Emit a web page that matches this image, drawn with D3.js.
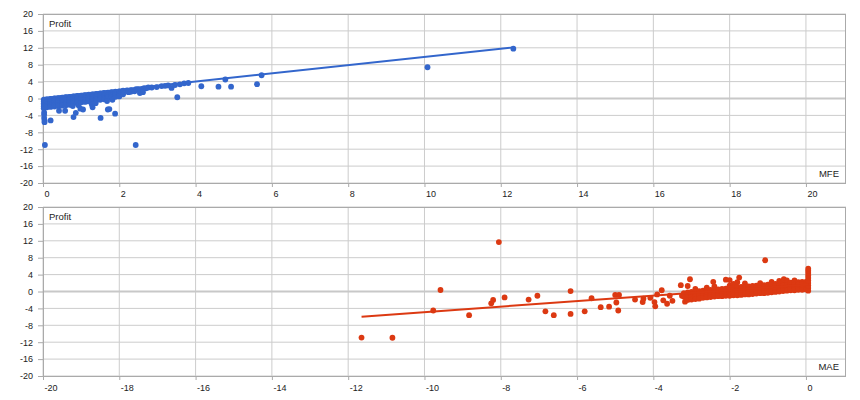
<!DOCTYPE html>
<html><head><meta charset="utf-8">
<script src="https://cdn.jsdelivr.net/npm/d3@7/dist/d3.min.js"></script>
<style>
body{margin:0;background:#fff;}
svg text{font-family:Arial,"Liberation Sans",sans-serif;fill:#222;}
</style></head><body>
<svg id="c" width="860" height="400"></svg>
<script>
// ---------- data ----------
const yTicks = [-20,-16,-12,-8,-4,0,4,8,12,16,20];
const mfeTicks = [0,2,4,6,8,10,12,14,16,18,20];
const maeTicks = [-20,-18,-16,-14,-12,-10,-8,-6,-4,-2,0];
const yLabel = "Profit";
const mfeLabel = "MFE";
const maeLabel = "MAE";

// [MFE, Profit]
const mfeData = [
[0.02,-0.3],[0.02,-0.7],[0.02,-1.1],[0.02,-1.5],[0.02,-1.9],[0.02,-2.3],[0.03,-3.3],[0.03,-3.8],[0.03,-4.6],[0.04,-5.2],[0.04,-5.6],[0.05,-11.0],
[0.1,-0.2],[0.1,-0.6],[0.1,-1.0],[0.1,-1.4],[0.1,-1.8],[0.1,-2.1],
[0.2,-0.1],[0.2,-0.5],[0.2,-0.9],[0.2,-1.3],[0.2,-1.7],[0.2,-2.0],[0.2,-5.2],
[0.3,0.0],[0.3,-0.4],[0.3,-0.8],[0.3,-1.2],[0.3,-1.6],[0.3,-1.9],
[0.4,0.1],[0.4,-0.3],[0.4,-0.7],[0.4,-1.1],[0.4,-1.5],[0.4,-1.8],[0.42,-2.9],
[0.5,0.2],[0.5,-0.2],[0.5,-0.6],[0.5,-1.0],[0.5,-1.4],[0.5,-1.7],
[0.6,0.3],[0.6,-0.1],[0.6,-0.5],[0.6,-0.9],[0.6,-1.3],[0.6,-1.6],[0.58,-2.9],
[0.7,0.4],[0.7,0.0],[0.7,-0.4],[0.7,-0.8],[0.7,-1.2],[0.7,-1.5],
[0.8,0.5],[0.8,0.1],[0.8,-0.3],[0.8,-0.7],[0.8,-1.1],[0.78,-1.8],[0.8,-4.4],
[0.9,0.6],[0.9,0.2],[0.9,-0.2],[0.9,-0.6],[0.9,-1.0],[0.93,-1.6],[0.86,-3.4],
[1.0,0.7],[1.0,0.3],[1.0,-0.1],[1.0,-0.5],[1.0,-0.9],[0.98,-2.4],[1.05,-2.6],
[1.1,0.8],[1.1,0.4],[1.1,0.0],[1.1,-0.4],[1.1,-0.8],
[1.2,0.9],[1.2,0.5],[1.2,0.1],[1.2,-0.3],[1.2,-0.7],
[1.3,1.0],[1.3,0.6],[1.3,0.2],[1.3,-0.2],[1.3,-0.6],[1.28,-1.4],[1.3,-2.1],
[1.4,1.1],[1.4,0.7],[1.4,0.3],[1.4,-0.1],[1.4,-0.4],[1.38,-1.1],
[1.5,1.2],[1.5,0.8],[1.5,0.4],[1.5,0.0],[1.5,-0.3],[1.51,-4.6],
[1.6,1.3],[1.6,0.9],[1.6,0.5],[1.6,0.1],[1.6,-0.2],
[1.7,1.4],[1.7,1.0],[1.7,0.6],[1.7,0.2],[1.68,-0.6],[1.7,-2.6],[1.74,-2.5],
[1.8,1.5],[1.8,1.1],[1.8,0.7],[1.8,0.3],[1.82,-0.3],
[1.9,1.6],[1.9,1.2],[1.9,0.8],[1.9,0.4],[1.89,-3.6],
[2.0,1.7],[2.0,1.3],[2.0,0.9],[2.0,0.5],
[2.1,1.85],[2.1,1.4],[2.1,1.0],
[2.2,1.9],[2.24,1.5],
[2.31,2.0],[2.3,1.6],
[2.44,2.2],[2.4,1.7],[2.43,-11.0],
[2.54,1.3],[2.5,2.2],[2.55,1.8],
[2.6,2.3],[2.65,2.45],[2.62,1.5],
[2.7,2.4],[2.76,2.6],[2.85,2.6],
[2.98,2.7],[3.11,2.95],[3.2,3.0],[3.28,3.1],[3.37,2.5],[3.46,3.2],[3.52,0.3],
[3.59,3.35],[3.7,3.6],[3.81,3.67],[4.15,2.9],[4.6,2.8],[4.78,4.5],[4.93,2.8],
[5.61,3.4],[5.73,5.5],[10.08,7.4],[12.33,11.8]
];

// [MAE, Profit]
const maeData = [
[-11.65,-10.9],[-10.84,-10.95],[-9.77,-4.5],[-9.58,0.35],[-8.83,-5.6],[-8.25,-2.8],[-8.2,-2.0],
[-8.05,11.7],[-7.9,-1.4],[-7.27,-1.9],[-7.04,-1.0],[-6.83,-4.7],[-6.61,-5.6],[-6.17,0.1],[-6.17,-5.3],
[-5.8,-4.7],[-5.62,-1.6],[-5.38,-3.7],[-5.16,-3.6],[-5.0,-0.8],[-4.9,-0.8],[-4.97,-2.6],[-4.92,-4.5],
[-4.48,-1.9],[-4.28,-2.5],[-4.26,-1.7],[-4.08,-1.5],[-3.97,-2.5],[-3.95,-3.5],[-3.9,-0.7],[-3.78,0.3],
[-3.74,-2.1],[-3.64,-2.9],[-3.57,-1.0],[-3.5,-2.2],
[-3.28,1.5],[-3.25,-1.0],
[-3.2,-0.4],[-3.2,-1.2],[-3.17,-2.4],
[-3.1,1.3],[-3.1,-0.2],[-3.1,-0.8],[-3.1,-1.4],[-3.1,-2.0],[-3.04,2.9],
[-3.0,-0.1],[-3.0,-0.7],[-3.0,-1.3],[-3.0,-1.9],
[-2.9,0.6],[-2.9,0.0],[-2.9,-0.6],[-2.9,-1.2],[-2.9,-1.8],
[-2.8,0.1],[-2.8,-0.5],[-2.8,-1.1],[-2.8,-1.7],
[-2.7,0.2],[-2.7,-0.4],[-2.7,-1.0],[-2.7,-1.5],
[-2.6,0.9],[-2.6,0.3],[-2.6,-0.3],[-2.6,-0.9],[-2.6,-1.4],
[-2.5,0.4],[-2.5,-0.2],[-2.5,-0.8],[-2.5,-1.3],[-2.43,2.3],
[-2.4,1.2],[-2.4,0.5],[-2.4,-0.1],[-2.4,-0.7],[-2.4,-1.2],
[-2.3,0.5],[-2.3,0.0],[-2.3,-0.6],[-2.3,-1.1],
[-2.2,0.6],[-2.2,0.0],[-2.2,-0.5],[-2.2,-1.1],
[-2.1,2.8],[-2.1,0.7],[-2.1,0.1],[-2.1,-0.5],[-2.1,-1.0],
[-2.0,2.7],[-2.0,1.4],[-2.0,0.8],[-2.0,0.2],[-2.0,-0.4],[-2.0,-1.0],
[-1.9,1.8],[-1.9,0.9],[-1.9,0.3],[-1.9,-0.3],[-1.9,-0.9],
[-1.8,2.2],[-1.8,1.0],[-1.8,0.4],[-1.8,-0.2],[-1.8,-0.9],[-1.75,3.3],
[-1.7,1.1],[-1.7,0.5],[-1.7,-0.1],[-1.7,-0.8],
[-1.6,1.9],[-1.6,1.1],[-1.6,0.5],[-1.6,-0.1],[-1.6,-0.7],
[-1.5,1.2],[-1.5,0.6],[-1.5,0.0],[-1.5,-0.7],
[-1.4,1.3],[-1.4,0.7],[-1.4,0.1],[-1.4,-0.6],
[-1.3,1.4],[-1.3,0.8],[-1.3,0.2],[-1.3,-0.5],
[-1.2,2.0],[-1.2,1.4],[-1.2,0.8],[-1.2,0.2],[-1.2,-0.4],
[-1.1,1.5],[-1.1,0.9],[-1.1,0.3],[-1.1,-0.4],[-1.07,7.4],
[-1.0,1.6],[-1.0,1.0],[-1.0,0.4],[-1.0,-0.3],
[-0.9,2.3],[-0.9,1.7],[-0.9,1.1],[-0.9,0.5],[-0.9,-0.2],
[-0.8,1.8],[-0.8,1.2],[-0.8,0.6],[-0.8,-0.1],
[-0.7,2.5],[-0.7,1.9],[-0.7,1.3],[-0.7,0.7],[-0.7,0.0],
[-0.6,2.0],[-0.6,1.4],[-0.6,0.8],[-0.6,0.1],[-0.58,2.9],
[-0.5,2.6],[-0.5,2.1],[-0.5,1.5],[-0.5,0.9],[-0.5,0.2],
[-0.4,2.1],[-0.4,1.5],[-0.4,0.9],[-0.4,0.3],
[-0.3,2.6],[-0.3,2.2],[-0.3,1.6],[-0.3,1.0],[-0.3,0.3],
[-0.2,2.2],[-0.2,1.6],[-0.2,1.0],[-0.2,0.4],
[-0.1,2.3],[-0.1,1.7],[-0.1,1.1],[-0.1,0.4],
[0.0,2.3],[0.0,1.7],[0.0,1.1],[0.0,0.5],
[0.06,0.2],[0.06,0.8],[0.06,1.4],[0.06,2.0],[0.06,2.6],[0.06,3.2],[0.06,3.8],[0.06,4.4],[0.06,4.9],[0.06,5.4]
];

const mfeTrend = [[0,0.1],[12.33,12.1]];
const maeTrend = [[-11.65,-5.95],[0.06,1.65]];

const mfeColor = "#3366cc";
const maeColor = "#dc3912";

// ---------- drawing ----------
const svg = d3.select("#c");
const L = 43, R = 846;

function panel(o) {
  const g = svg.append("g");
  const x = d3.scaleLinear().domain(o.xDomain).range([L, R]);
  const y = d3.scaleLinear().domain([-20, 20]).range([o.bottom, o.top]);

  // grid
  g.append("g").selectAll("line").data(o.xTicks).join("line")
    .attr("x1", d => x(d)).attr("x2", d => x(d))
    .attr("y1", o.top).attr("y2", o.bottom)
    .attr("stroke", "#cccccc").attr("stroke-width", 1);
  g.append("g").selectAll("line").data(yTicks.filter(d => d !== 0)).join("line")
    .attr("x1", L).attr("x2", R)
    .attr("y1", d => y(d)).attr("y2", d => y(d))
    .attr("stroke", "#cccccc").attr("stroke-width", 1);
  g.append("line").attr("x1", L).attr("x2", R).attr("y1", y(0)).attr("y2", y(0))
    .attr("stroke", "#c8c8c8").attr("stroke-width", 2);

  // axes
  const ax = g.append("g").attr("transform", `translate(0,${o.bottom})`)
    .call(d3.axisBottom(x).tickValues(o.xTicks).tickSize(4).tickPadding(o.xPad).tickFormat(d => String(d)));
  ax.select(".domain").remove();
  ax.selectAll("line").attr("stroke", "#aaaaaa");
  ax.selectAll("text").attr("text-anchor", "start").attr("dx", 1)
    .style("font-size", "9px").attr("fill", "#222");

  const ay = g.append("g").attr("transform", `translate(${L},0)`)
    .call(d3.axisLeft(y).tickValues(yTicks).tickSize(5).tickPadding(5).tickFormat(d => String(d)));
  ay.select(".domain").remove();
  ay.selectAll("line").attr("stroke", "#aaaaaa");
  ay.selectAll("text").style("font-size", "9px").attr("fill", "#222");

  // border
  g.append("rect").attr("x", L + 0.5).attr("y", o.top + 0.5)
    .attr("width", R - L - 1).attr("height", o.bottom - o.top)
    .attr("fill", "none").attr("stroke", "#aaaaaa");

  // points
  g.append("g").selectAll("circle").data(o.data).join("circle")
    .attr("cx", d => x(d[0])).attr("cy", d => y(d[1]))
    .attr("r", 2.9).attr("fill", o.color);

  // trend line
  g.append("path").datum(o.trend)
    .attr("d", d3.line().x(d => x(d[0])).y(d => y(d[1])))
    .attr("fill", "none").attr("stroke", o.color).attr("stroke-width", 2);

  // labels
  g.append("text").attr("x", 49).attr("y", o.top + 12.7)
    .style("font-size", "9.5px").text(yLabel);
  g.append("text").attr("x", 839).attr("y", o.bottom - 5.7)
    .attr("text-anchor", "end").style("font-size", "9.5px").text(o.xTitle);
}

panel({top: 14, bottom: 183, xDomain: [0, 21.05], xTicks: mfeTicks, xPad: 4,
       data: mfeData, trend: mfeTrend, color: mfeColor, xTitle: mfeLabel});
panel({top: 207, bottom: 376, xDomain: [-20, 1.05], xTicks: maeTicks, xPad: 5,
       data: maeData, trend: maeTrend, color: maeColor, xTitle: maeLabel});
</script>
</body></html>
